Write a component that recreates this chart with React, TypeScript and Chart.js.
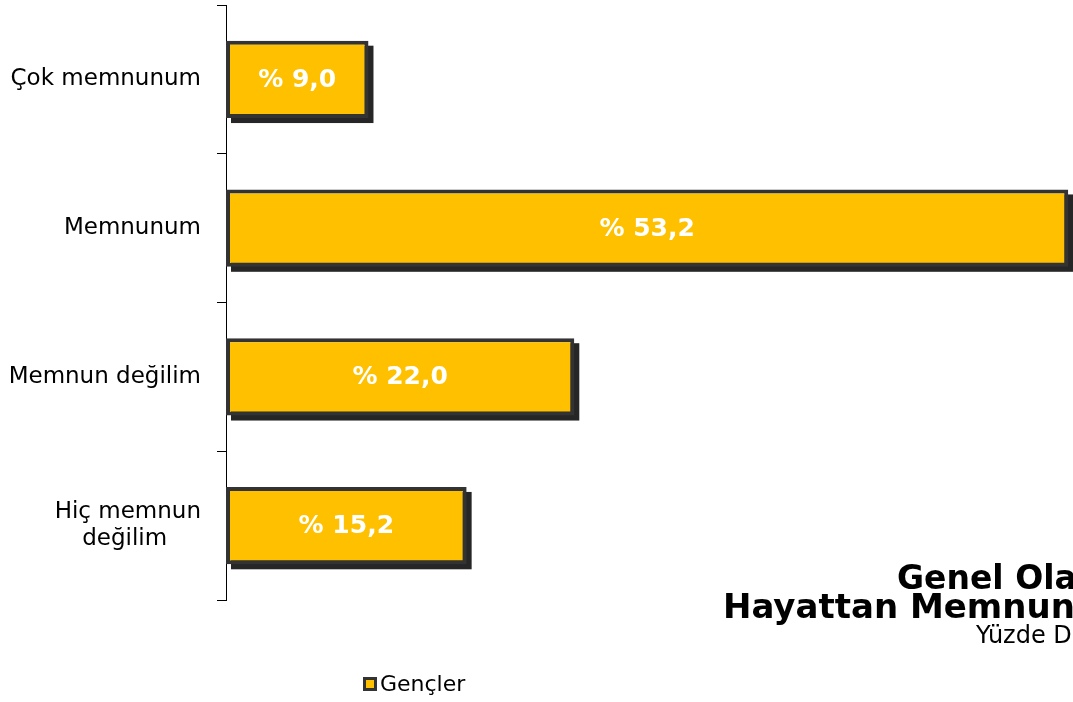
import React, { useEffect, useRef } from "react";
import { Chart, registerables } from "chart.js";

Chart.register(...registerables);

const categories: (string | string[])[] = [
  "Çok memnunum",
  "Memnunum",
  "Memnun değilim",
  ["Hiç memnun", "değilim    \u2009"],
];
const seriesLabel = "Gençler";
const values = [9.0, 53.2, 22.0, 15.2];
const titleLines = ["Genel Olarak", "Hayattan Memnuniyet Durumu", "Yüzde Dağılım"];

const FONT = "'DejaVu Sans', sans-serif";
const BAR_COLOR = "#FFC000";
const BORDER_COLOR = "#333333";

const shadowPlugin = {
  id: "barShadow",
  beforeDatasetsDraw(chart: any) {
    const ctx = chart.ctx;
    const meta = chart.getDatasetMeta(0);
    ctx.save();
    ctx.fillStyle = "rgba(0,0,0,0.85)";
    meta.data.forEach((el: any) => {
      const p = el.getProps(["x", "y", "base", "height"], true);
      const left = Math.min(p.base, p.x);
      const right = Math.max(p.base, p.x);
      ctx.fillRect(left + 5, p.y - p.height / 2 + 5, right - left, p.height);
    });
    ctx.restore();
  },
};

const labelPlugin = {
  id: "barLabels",
  afterDatasetsDraw(chart: any) {
    const ctx = chart.ctx;
    const meta = chart.getDatasetMeta(0);
    const data = chart.data.datasets[0].data as number[];
    ctx.save();
    ctx.fillStyle = "#FFFFFF";
    ctx.font = `bold 25px ${FONT}`;
    ctx.textAlign = "center";
    ctx.textBaseline = "middle";
    meta.data.forEach((el: any, i: number) => {
      const p = el.getProps(["x", "y", "base"], true);
      const txt = "% " + data[i].toFixed(1).replace(".", ",");
      ctx.fillText(txt, (p.base + p.x) / 2, p.y + 1);
    });
    ctx.restore();
  },
};

const legendTitlePlugin = {
  id: "legendTitle",
  afterDraw(chart: any) {
    const ctx = chart.ctx;
    ctx.save();
    // legend
    const boxX = 363;
    const boxY = 677;
    const size = 14;
    ctx.fillStyle = BORDER_COLOR;
    ctx.fillRect(boxX, boxY, size, size);
    ctx.fillStyle = BAR_COLOR;
    ctx.fillRect(boxX + 3, boxY + 3, size - 6, size - 6);
    ctx.fillStyle = "#000";
    ctx.font = `22px ${FONT}`;
    ctx.textAlign = "left";
    ctx.textBaseline = "middle";
    ctx.fillText(chart.data.datasets[0].label, 380, 685);
    // title
    ctx.textBaseline = "alphabetic";
    ctx.font = `bold 33px ${FONT}`;
    ctx.fillText(titleLines[0], 897, 589);
    ctx.font = `bold 34px ${FONT}`;
    ctx.fillText(titleLines[1], 723, 618);
    ctx.font = `24px ${FONT}`;
    ctx.fillText(titleLines[2], 976, 643);
    ctx.restore();
  },
};

export default function App() {
  const ref = useRef<HTMLCanvasElement | null>(null);
  useEffect(() => {
    if (!ref.current) return;
    const chart = new Chart(ref.current, {
      type: "bar",
      data: {
        labels: categories,
        datasets: [
          {
            label: seriesLabel,
            data: values,
            backgroundColor: BAR_COLOR,
            borderColor: BORDER_COLOR,
            borderWidth: 4,
            borderSkipped: false,
            categoryPercentage: 1,
            barPercentage: 0.52,
          },
        ],
      },
      options: {
        indexAxis: "y",
        animation: false,
        responsive: false,
        maintainAspectRatio: false,
        layout: { padding: { top: 5, bottom: 102, left: 0, right: 0 } },
        plugins: {
          legend: { display: false },
          tooltip: { enabled: false },
          title: { display: false },
        },
        scales: {
          x: { display: false, min: 0, max: 53.5 },
          y: {
            afterFit: (s: any) => {
              s.width = 226;
              s.paddingTop = 0;
              s.paddingBottom = 0;
            },
            grid: {
              display: true,
              drawOnChartArea: false,
              drawTicks: true,
              tickLength: 9,
              color: "#000",
              lineWidth: 1,
              offset: true,
            },
            border: { display: true, color: "#000", width: 1 },
            ticks: {
              color: "#000",
              padding: 16,
              font: { family: FONT, size: 23 },
            },
          },
        },
      },
      plugins: [shadowPlugin, labelPlugin, legendTitlePlugin],
    });
    return () => chart.destroy();
  }, []);
  return (
    <div
      style={{
        position: "fixed",
        left: 0,
        top: 0,
        width: 1073,
        height: 702,
        overflow: "hidden",
        background: "#fff",
      }}
    >
      <canvas ref={ref} width={1073} height={702} style={{ display: "block" }} />
    </div>
  );
}
